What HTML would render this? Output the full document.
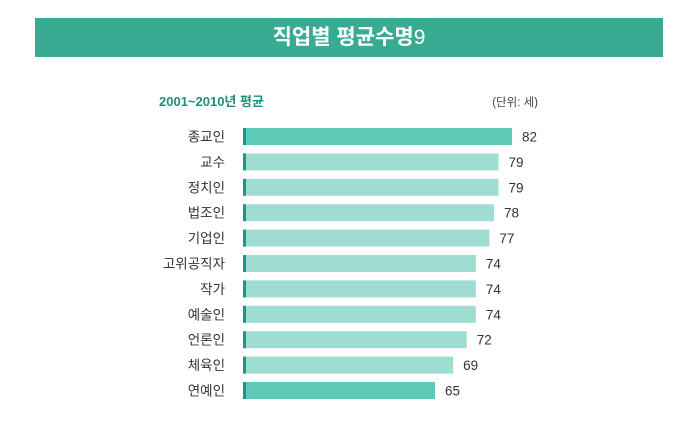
<!DOCTYPE html>
<html><head><meta charset="utf-8"><style>
body{margin:0;width:691px;height:444px;background:#fff;overflow:hidden;font-family:"Liberation Sans","Noto Sans CJK KR",sans-serif}
#hdr{position:absolute;left:35px;top:18px;width:628px;height:39px;background:#3aab93;color:#fff;font-size:21px;font-weight:bold;text-align:center;line-height:39px}
</style></head><body>
<div id="hdr">직업별 평균수명<span style="font-weight:normal">9</span></div>
<svg id="c" width="691" height="444" style="position:absolute;left:0;top:0">
<text x="159" y="106" font-size="13" font-weight="bold" fill="#1f8f7a">2001~2010년 평균</text>
<text x="538" y="106" font-size="11.5" fill="#444" text-anchor="end">(단위: 세)</text>
</svg>
<script>
const categories=["종교인","교수","정치인","법조인","기업인","고위공직자","작가","예술인","언론인","체육인","연예인"];
const values=[82,79,79,78,77,74,74,74,72,69,65];
const highlight=[true,false,false,false,false,false,false,false,false,false,true];
const svg=document.getElementById('c');
const NS='http://www.w3.org/2000/svg';
const x=v=>140.6+4.53*v;
const y=i=>128+i*25.4;
const x0=243;
categories.forEach((c,i)=>{
  const t=document.createElementNS(NS,'text');
  
  
  t.setAttribute('x',225);t.setAttribute('y',y(i)+13.5);
  t.setAttribute('text-anchor','end');t.setAttribute('font-size','13.5');t.setAttribute('fill','#333');
  t.textContent=c;svg.appendChild(t);
  const r=document.createElementNS(NS,'rect');
  
  
  r.setAttribute('x',x0);r.setAttribute('y',y(i));r.setAttribute('width',x(values[i])-x0);r.setAttribute('height',17);
  r.setAttribute('fill',highlight[i]?'#5ccab7':'#9fddd2');svg.appendChild(r);
  const m=document.createElementNS(NS,'rect');
  
  
  m.setAttribute('x',x0);m.setAttribute('y',y(i));m.setAttribute('width',3);m.setAttribute('height',17);
  m.setAttribute('fill','#1a9a86');svg.appendChild(m);
  const v=document.createElementNS(NS,'text');
  
  
  v.setAttribute('x',x(values[i])+10);v.setAttribute('y',y(i)+13.5);
  v.setAttribute('font-size','13.5');v.setAttribute('fill','#333');
  v.textContent=values[i];svg.appendChild(v);
});
</script>
</body></html>
